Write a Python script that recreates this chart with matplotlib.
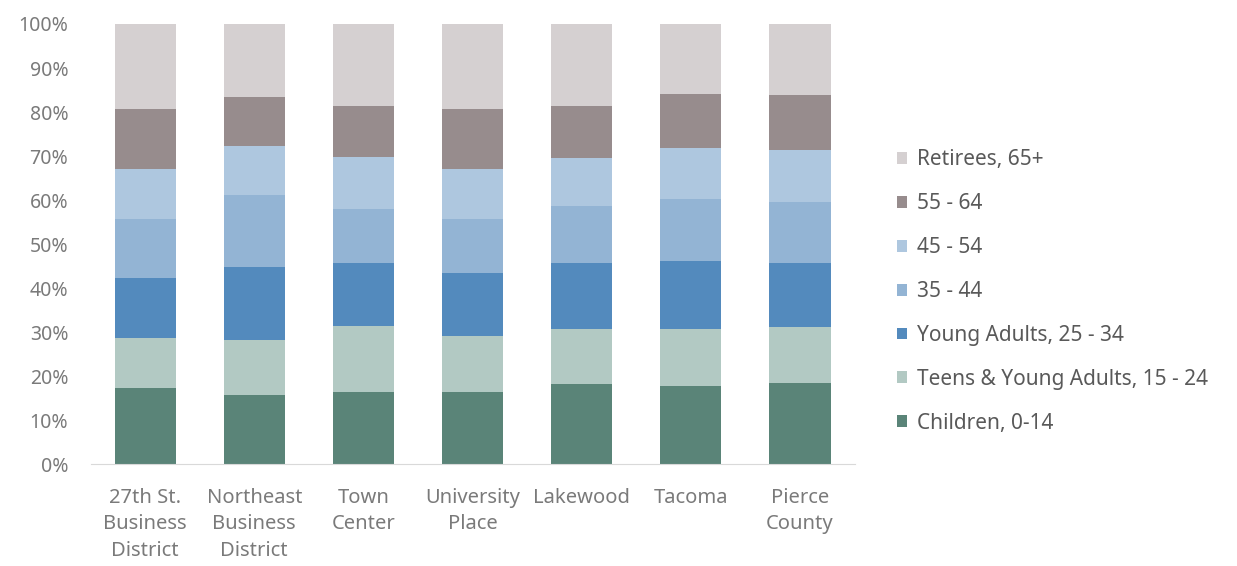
import numpy as np
import matplotlib.pyplot as plt

plt.rcParams["font.family"] = ["Noto Sans", "DejaVu Sans"]

places = ["27th St.\nBusiness\nDistrict", "Northeast\nBusiness\nDistrict", "Town\nCenter",
          "University\nPlace", "Lakewood", "Tacoma", "Pierce\nCounty"]

groups = ["Children, 0-14", "Teens & Young Adults, 15 - 24", "Young Adults, 25 - 34",
          "35 - 44", "45 - 54", "55 - 64", "Retirees, 65+"]

# share of population (%) per age group, bottom to top
children = [17.3, 15.8, 16.3, 16.4, 18.1, 17.7, 18.5]
teens = [11.4, 12.5, 15.1, 12.7, 12.7, 13.1, 12.7]
young_adults = [13.5, 16.4, 14.2, 14.4, 15.0, 15.4, 14.6]
age_35_44 = [13.6, 16.4, 12.3, 12.2, 12.8, 14.0, 13.7]
age_45_54 = [11.2, 11.2, 11.8, 11.3, 10.9, 11.7, 11.9]
age_55_64 = [13.7, 11.2, 11.7, 13.7, 11.9, 12.1, 12.5]
retirees = [19.3, 16.5, 18.6, 19.3, 18.6, 16.0, 16.1]

series = [children, teens, young_adults, age_35_44, age_45_54, age_55_64, retirees]
colors = ["#5a8478", "#b2c9c3", "#538abd", "#93b4d4", "#aec7df", "#978c8d", "#d5d0d1"]

fig = plt.figure(figsize=(12.37, 5.66), dpi=100)
ax = fig.add_axes([0.0732, 0.180, 0.6176, 0.7776])

x = np.arange(len(places))
bottom = np.zeros(len(places))
handles = []
for vals, col, name in zip(series, colors, groups):
    vals = np.array(vals)
    b = ax.bar(x, vals, 0.56, bottom=bottom, color=col, label=name)
    handles.append(b)
    bottom += vals

ax.set_xlim(-0.5, len(places) - 0.5)
ax.set_ylim(0, 100)
ax.set_yticks(np.arange(0, 101, 10))
ax.set_yticklabels([f"{v}%" for v in range(0, 101, 10)])
ax.set_xticks(x)
ax.set_xticklabels(places, linespacing=1.45)
ax.tick_params(axis="both", length=0, labelcolor="#7a7a7a")
ax.tick_params(axis="y", pad=16, labelsize=14)
ax.tick_params(axis="x", pad=17, labelsize=14.5)
for s in ["top", "right", "left"]:
    ax.spines[s].set_visible(False)
ax.spines["bottom"].set_color("#d9d9d9")

fig.legend(handles[::-1], groups[::-1], loc="center left", bbox_to_anchor=(0.71, 0.485),
           frameon=False, fontsize=15, labelcolor="#595959", handlelength=0.5,
           handleheight=0.5, handletextpad=0.45, labelspacing=1.1)

fig.savefig("out.png", dpi=100)
